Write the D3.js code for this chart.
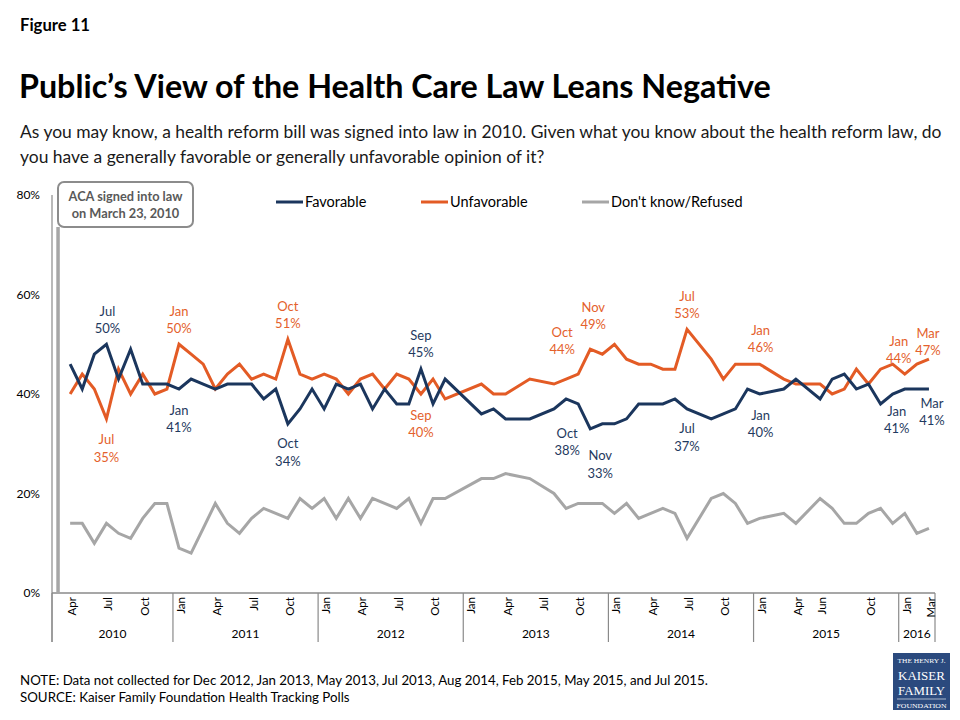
<!DOCTYPE html>
<html>
<head>
<meta charset="utf-8">
<script src="https://cdn.jsdelivr.net/npm/d3@7"></script>
<style>
  body { margin: 0; background: #fff; }
  svg { display: block; font-family: Lato, "Open Sans", sans-serif; }
</style>
</head>
<body>
<svg id="chart" width="960" height="720"></svg>
<script>
// ---------------- DATA ----------------
const months = [
  "2010-04","2010-05","2010-06","2010-07","2010-08","2010-09","2010-10","2010-11","2010-12",
  "2011-01","2011-02","2011-03","2011-04","2011-05","2011-06","2011-07","2011-08","2011-09","2011-10","2011-11","2011-12",
  "2012-01","2012-02","2012-03","2012-04","2012-05","2012-06","2012-07","2012-08","2012-09","2012-10","2012-11",
  "2013-02","2013-03","2013-04","2013-06","2013-08","2013-09","2013-10","2013-11","2013-12",
  "2014-01","2014-02","2014-03","2014-04","2014-05","2014-06","2014-07","2014-09","2014-10","2014-11","2014-12",
  "2015-01","2015-03","2015-04","2015-06","2015-07","2015-08","2015-09","2015-10","2015-11","2015-12",
  "2016-01","2016-02","2016-03"
];
const favorable = [
  46,41,48,50,43,49,42,42,42,
  41,43,42,41,42,42,42,39,41,34,37,41,
  37,42,41,42,37,41,38,38,45,38,43,
  36,37,35,35,37,39,38,33,34,
  34,35,38,38,38,39,37,35,36,37,41,
  40,41,43,39,43,44,41,42,38,40,
  41,41,41
];
const unfavorable = [
  40,44,41,35,45,40,44,40,41,
  50,48,46,41,44,46,43,44,43,51,44,43,
  44,43,40,43,44,41,44,43,40,43,39,
  42,40,40,43,42,43,44,49,48,
  50,47,46,46,45,45,53,47,43,46,46,
  46,43,42,42,40,41,45,42,45,46,
  44,46,47
];
const dontKnow = [
  14,14,10,14,12,11,15,18,18,
  9,8,13,18,14,12,15,17,16,15,19,17,
  19,15,19,15,19,18,17,19,14,19,19,
  23,23,24,23,20,17,18,18,18,
  16,18,15,16,17,16,11,19,20,18,14,
  15,16,14,19,17,14,14,16,17,14,
  16,12,13
];
const seriesNames = ["Favorable", "Unfavorable", "Don't know/Refused"];
const axisStart = "2010-03", axisEnd = "2016-03";
const yTicks = [0, 20, 40, 60, 80];
const monthTicks = [
  ["2010-04","Apr"],["2010-07","Jul"],["2010-10","Oct"],
  ["2011-01","Jan"],["2011-04","Apr"],["2011-07","Jul"],["2011-10","Oct"],
  ["2012-01","Jan"],["2012-04","Apr"],["2012-07","Jul"],["2012-10","Oct"],
  ["2013-01","Jan"],["2013-04","Apr"],["2013-07","Jul"],["2013-10","Oct"],
  ["2014-01","Jan"],["2014-04","Apr"],["2014-07","Jul"],["2014-10","Oct"],
  ["2015-01","Jan"],["2015-04","Apr"],["2015-06","Jun"],["2015-10","Oct"],
  ["2016-01","Jan"],["2016-03","Mar"]
];
const years = ["2010","2011","2012","2013","2014","2015","2016"];
const favLabelMonths = ["2010-07","2011-01","2011-10","2012-09","2013-10","2013-11","2014-07","2015-01","2016-01","2016-03"];
const unfLabelMonths = ["2010-07","2011-01","2011-10","2012-09","2013-10","2013-11","2014-07","2015-01","2016-01","2016-03"];
const acaMonth = "2010-03";

// ---------------- DRAWING ----------------
const svg = d3.select("#chart");
const C = { fav: "#1b365d", unf: "#e35b25", dk: "#a6a6a6", favText: "#1f3a60", unfText: "#e4612c" };
const monthName = ["Jan","Feb","Mar","Apr","May","Jun","Jul","Aug","Sep","Oct","Nov","Dec"];
const parse = d3.timeParse("%Y-%m");
const fmt = d3.timeFormat("%Y-%m");
const allMonths = d3.timeMonth.range(parse(axisStart), d3.timeMonth.offset(parse(axisEnd), 1)).map(fmt);

const x = d3.scaleBand().domain(allMonths).range([52, 935]).padding(0);
const xc = m => x(m) + x.bandwidth() / 2;
const y = d3.scaleLinear().domain([0, 80]).range([593, 195]);

function fit(sel, w) {
  const cur = sel.node().getComputedTextLength();
  const fs = parseFloat(sel.attr("font-size"));
  sel.attr("font-size", fs * w / cur);
  return fs * w / cur;
}

// Header
fit(svg.append("text").attr("x", 20).attr("y", 31).attr("font-size", 16).attr("font-weight", 700)
  .attr("fill", "#000").text("Figure 11"), 70);
fit(svg.append("text").attr("x", 19).attr("y", 98).attr("font-size", 30).attr("font-weight", 700)
  .attr("fill", "#000").text("Public’s View of the Health Care Law Leans Negative"), 752);
const sub1 = svg.append("text").attr("x", 20).attr("y", 138).attr("font-size", 17).attr("fill", "#1a1a1a")
  .text("As you may know, a health reform bill was signed into law in 2010. Given what you know about the health reform law, do");
const subFs = fit(sub1, 922);
svg.append("text").attr("x", 20).attr("y", 163).attr("font-size", subFs).attr("fill", "#1a1a1a")
  .text("you have a generally favorable or generally unfavorable opinion of it?");

// Footer
const note = svg.append("text").attr("x", 20).attr("y", 685).attr("font-size", 13).attr("fill", "#000")
  .text("NOTE: Data not collected for Dec 2012, Jan 2013, May 2013, Jul 2013, Aug 2014, Feb 2015, May 2015, and Jul 2015.");
const noteFs = fit(note, 688);
svg.append("text").attr("x", 20).attr("y", 702).attr("font-size", noteFs).attr("fill", "#000")
  .text("SOURCE: Kaiser Family Foundation Health Tracking Polls");

// Y axis labels
svg.append("g").selectAll("text").data(yTicks).join("text")
  .attr("x", 40).attr("y", d => y(d)).attr("dy", "0.35em").attr("text-anchor", "end")
  .attr("font-size", 12).attr("fill", "#000").text(d => d + "%");

// Axis lines
svg.append("line").attr("x1", 52).attr("x2", 52).attr("y1", y(80)).attr("y2", 642)
  .attr("stroke", "#8a8a8a").attr("stroke-width", 1.2);
svg.append("line").attr("x1", 52).attr("x2", 935).attr("y1", y(0)).attr("y2", y(0))
  .attr("stroke", "#8a8a8a").attr("stroke-width", 1.5);

// Year separators and labels
const yearStarts = years.map(yr => yr === years[0] ? x(axisStart) : x(yr + "-01"));
const yearEnds = yearStarts.slice(1).concat([x(axisEnd) + x.bandwidth()]);
svg.append("g").selectAll("line").data(yearStarts.concat([yearEnds[yearEnds.length - 1]])).join("line")
  .attr("x1", d => d).attr("x2", d => d).attr("y1", y(0)).attr("y2", 642)
  .attr("stroke", "#8a8a8a").attr("stroke-width", 1.2);
svg.append("g").selectAll("text").data(years).join("text")
  .attr("x", (d, i) => (yearStarts[i] + yearEnds[i]) / 2).attr("y", 634).attr("dy", "0.35em")
  .attr("text-anchor", "middle").attr("font-size", 12).attr("fill", "#000").text(d => d);

// Month tick labels (rotated)
svg.append("g").selectAll("text").data(monthTicks).join("text")
  .attr("transform", d => `translate(${xc(d[0]) + 2},597) rotate(-90)`)
  .attr("text-anchor", "end").attr("dy", "0.35em").attr("font-size", 11.5).attr("fill", "#000")
  .text(d => d[1]);

// ACA marker line + callout
svg.append("line").attr("x1", xc(acaMonth)).attr("x2", xc(acaMonth)).attr("y1", 227).attr("y2", y(0))
  .attr("stroke", "#a6a6a6").attr("stroke-width", 3.5);
svg.append("rect").attr("x", 58).attr("y", 182).attr("width", 135).attr("height", 45).attr("rx", 6)
  .attr("fill", "#fff").attr("stroke", "#8c8c8c").attr("stroke-width", 2);
const c1 = svg.append("text").attr("x", 125.5).attr("y", 201).attr("text-anchor", "middle")
  .attr("font-size", 13).attr("font-weight", 700).attr("fill", "#595959").text("ACA signed into law");
const cFs = fit(c1, 114);
svg.append("text").attr("x", 125.5).attr("y", 218).attr("text-anchor", "middle")
  .attr("font-size", cFs).attr("font-weight", 700).attr("fill", "#595959").text("on March 23, 2010");

// Lines
const table = months.map((m, i) => ({ m, fav: favorable[i], unf: unfavorable[i], dk: dontKnow[i] }));
const mkLine = key => d3.line().x(d => xc(d.m)).y(d => y(d[key]));
[["dk", C.dk], ["unf", C.unf], ["fav", C.fav]].forEach(([k, col]) => {
  svg.append("path").datum(table).attr("d", mkLine(k)).attr("fill", "none")
    .attr("stroke", col).attr("stroke-width", 3).attr("stroke-linejoin", "miter");
});

// Legend
const legend = [
  { name: seriesNames[0], col: C.fav, x: 276 },
  { name: seriesNames[1], col: C.unf, x: 421 },
  { name: seriesNames[2], col: C.dk, x: 582 }
];
const lg = svg.append("g").selectAll("g").data(legend).join("g");
lg.append("line").attr("x1", d => d.x).attr("x2", d => d.x + 27).attr("y1", 202).attr("y2", 202)
  .attr("stroke", d => d.col).attr("stroke-width", 3);
lg.append("text").attr("x", d => d.x + 29).attr("y", 202).attr("dy", "0.35em")
  .attr("font-size", 14.5).attr("fill", "#000").text(d => d.name);

// Data labels
const favOff = {
  "2010-07": [1, -33], "2011-01": [0, 21], "2011-10": [0, 20], "2012-09": [0, -34],
  "2013-10": [-11, 29], "2013-11": [10, 27], "2014-07": [0, 20], "2015-01": [1, 21],
  "2016-01": [-8, 22], "2016-03": [3, 14]
};
const unfOff = {
  "2010-07": [0, 21], "2011-01": [0, -33], "2011-10": [0, -33], "2012-09": [0, 21],
  "2013-10": [-16, -42], "2013-11": [3, -42], "2014-07": [0, -33], "2015-01": [1, -34],
  "2016-01": [-6, -33], "2016-03": [-1, -26]
};
function addLabels(list, key, off, col) {
  const g = svg.append("g");
  list.forEach(m => {
    const i = months.indexOf(m);
    const v = key === "fav" ? favorable[i] : unfavorable[i];
    const px = xc(m) + off[m][0], py = y(v) + off[m][1];
    const mo = monthName[+m.slice(5) - 1];
    g.append("text").attr("x", px).attr("y", py).attr("dy", "0.35em").attr("text-anchor", "middle")
      .attr("font-size", 13).attr("fill", col).text(mo);
    g.append("text").attr("x", px).attr("y", py + 17.5).attr("dy", "0.35em").attr("text-anchor", "middle")
      .attr("font-size", 13).attr("fill", col).text(v + "%");
  });
}
addLabels(favLabelMonths, "fav", favOff, C.favText);
addLabels(unfLabelMonths, "unf", unfOff, C.unfText);

// Logo
const logo = svg.append("g").attr("font-family", "'Liberation Serif', 'DejaVu Serif', serif").attr("fill", "#fff");
logo.append("rect").attr("x", 893).attr("y", 653).attr("width", 57).attr("height", 57).attr("fill", "#2b4a7e");
const lx = 921.5;
logo.append("text").attr("x", lx).attr("y", 663).attr("text-anchor", "middle").attr("font-size", 6.5)
  .attr("textLength", 48).attr("lengthAdjust", "spacingAndGlyphs").text("THE HENRY J.");
logo.append("text").attr("x", lx).attr("y", 680).attr("text-anchor", "middle").attr("font-size", 12.5)
  .attr("textLength", 47).attr("lengthAdjust", "spacingAndGlyphs").text("KAISER");
logo.append("text").attr("x", lx).attr("y", 694.5).attr("text-anchor", "middle").attr("font-size", 12.5)
  .attr("textLength", 47).attr("lengthAdjust", "spacingAndGlyphs").text("FAMILY");
logo.append("line").attr("x1", 897).attr("x2", 946).attr("y1", 699).attr("y2", 699)
  .attr("stroke", "#fff").attr("stroke-width", 0.6);
logo.append("text").attr("x", lx).attr("y", 707.5).attr("text-anchor", "middle").attr("font-size", 6.5)
  .attr("textLength", 50).attr("lengthAdjust", "spacingAndGlyphs").text("FOUNDATION");
</script>
</body>
</html>
